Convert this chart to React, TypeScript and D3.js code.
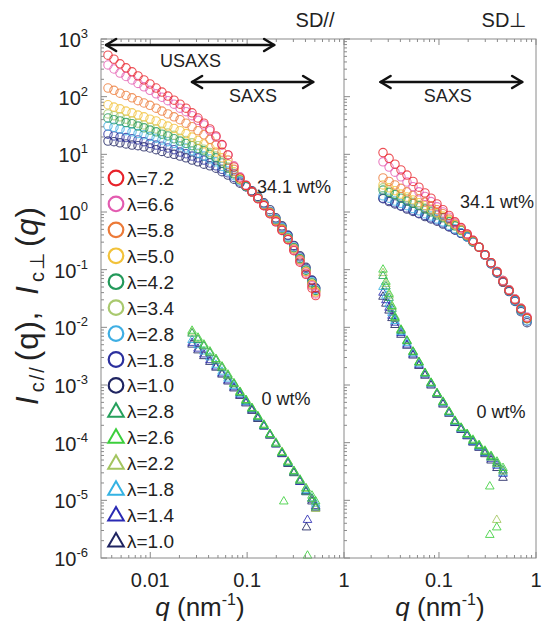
import * as d3 from "d3";

const width = 543;
const height = 629;

// ---------- legend / series ----------
const circleLambdas = ["7.2", "6.6", "5.8", "5.0", "4.2", "3.4", "2.8", "1.8", "1.0"];
const circleColors = ["#e8232b", "#e35bb0", "#ec7a38", "#f2c23a", "#23995a", "#a9c96e", "#3eaee3", "#2b2f9e", "#1f2461"];
const triLambdas = ["2.8", "2.6", "2.2", "1.8", "1.4", "1.0"];
const triColors = ["#26a05c", "#3ccf3c", "#a3c55f", "#35b3e3", "#2a2ab4", "#1f2461"];

// ---------- SD// panel, 34.1 wt% (USAXS + SAXS) ----------
const qLeft = [0.00366, 0.00422, 0.00487, 0.00562, 0.00648, 0.00747, 0.00861, 0.00993, 0.0115, 0.0132, 0.0152, 0.0176, 0.0203, 0.0234, 0.027, 0.0311, 0.0358, 0.0413, 0.0477, 0.055, 0.0634, 0.0731, 0.0843, 0.0972, 0.112, 0.129, 0.149, 0.172, 0.198, 0.229, 0.264, 0.304, 0.351, 0.405, 0.467, 0.51];
const logLeft34 = [
  [2.72, 2.65, 2.57, 2.5, 2.43, 2.36, 2.29, 2.22, 2.15, 2.08, 2.01, 1.94, 1.87, 1.8, 1.72, 1.63, 1.54, 1.44, 1.32, 1.17, 0.99, 0.78, 0.59, 0.46, 0.35, 0.23, 0.11, -0.03, -0.17, -0.32, -0.48, -0.67, -0.87, -1.08, -1.32, -1.45],
  [2.55, 2.48, 2.41, 2.35, 2.29, 2.23, 2.17, 2.11, 2.05, 1.99, 1.93, 1.87, 1.8, 1.74, 1.67, 1.59, 1.51, 1.41, 1.3, 1.16, 0.99, 0.8, 0.61, 0.47, 0.35, 0.23, 0.11, -0.03, -0.17, -0.32, -0.48, -0.66, -0.85, -1.06, -1.28, -1.42],
  [2.15, 2.11, 2.06, 2.02, 1.98, 1.93, 1.89, 1.85, 1.8, 1.75, 1.7, 1.65, 1.6, 1.54, 1.48, 1.41, 1.34, 1.26, 1.16, 1.04, 0.9, 0.74, 0.59, 0.46, 0.35, 0.24, 0.12, -0.01, -0.15, -0.3, -0.47, -0.64, -0.83, -1.04, -1.26, -1.4],
  [1.86, 1.82, 1.79, 1.75, 1.72, 1.68, 1.65, 1.61, 1.58, 1.53, 1.49, 1.45, 1.41, 1.36, 1.3, 1.24, 1.18, 1.11, 1.04, 0.94, 0.83, 0.7, 0.57, 0.46, 0.35, 0.24, 0.12, -0.01, -0.15, -0.3, -0.47, -0.64, -0.83, -1.03, -1.25, -1.38],
  [1.63, 1.6, 1.58, 1.55, 1.53, 1.49, 1.46, 1.42, 1.39, 1.35, 1.32, 1.27, 1.23, 1.19, 1.15, 1.1, 1.06, 1.0, 0.94, 0.85, 0.76, 0.66, 0.56, 0.45, 0.35, 0.24, 0.12, -0.01, -0.14, -0.29, -0.45, -0.62, -0.81, -1.01, -1.23, -1.36],
  [1.7, 1.67, 1.65, 1.61, 1.58, 1.54, 1.51, 1.47, 1.44, 1.4, 1.37, 1.33, 1.28, 1.24, 1.2, 1.15, 1.09, 1.03, 0.97, 0.88, 0.78, 0.67, 0.56, 0.45, 0.35, 0.24, 0.12, -0.01, -0.14, -0.29, -0.45, -0.62, -0.81, -1.01, -1.23, -1.36],
  [1.49, 1.47, 1.44, 1.41, 1.39, 1.36, 1.34, 1.31, 1.28, 1.25, 1.22, 1.19, 1.15, 1.11, 1.06, 1.02, 0.97, 0.92, 0.87, 0.79, 0.71, 0.63, 0.54, 0.45, 0.35, 0.25, 0.14, 0.01, -0.12, -0.27, -0.43, -0.61, -0.8, -1.0, -1.21, -1.34],
  [1.35, 1.32, 1.3, 1.29, 1.27, 1.25, 1.22, 1.19, 1.16, 1.14, 1.11, 1.08, 1.04, 1.01, 0.97, 0.94, 0.9, 0.85, 0.8, 0.74, 0.68, 0.6, 0.52, 0.44, 0.35, 0.25, 0.14, 0.01, -0.12, -0.26, -0.41, -0.59, -0.78, -0.98, -1.19, -1.32],
  [1.23, 1.22, 1.2, 1.18, 1.16, 1.15, 1.13, 1.11, 1.08, 1.05, 1.02, 1.0, 0.97, 0.94, 0.9, 0.87, 0.83, 0.8, 0.76, 0.7, 0.64, 0.57, 0.5, 0.44, 0.37, 0.27, 0.16, 0.04, -0.1, -0.24, -0.4, -0.58, -0.76, -0.96, -1.18, -1.32],
];

// ---------- SD// panel, 0 wt% ----------
const qLeft0 = [0.027, 0.0311, 0.0358, 0.0413, 0.0477, 0.055, 0.0634, 0.0731, 0.0843, 0.0972, 0.112, 0.129, 0.149, 0.172, 0.198, 0.229, 0.264, 0.304, 0.351, 0.405, 0.467, 0.51];
const logLeft0 = [
  [-2.11, -2.22, -2.33, -2.45, -2.58, -2.71, -2.85, -2.99, -3.14, -3.28, -3.42, -3.56, -3.71, -3.86, -4.02, -4.18, -4.35, -4.52, -4.66, -4.85, -4.97, -5.12],
  [-2.06, -2.18, -2.3, -2.42, -2.55, -2.68, -2.82, -2.97, -3.12, -3.26, -3.4, -3.54, -3.69, -3.85, -4.0, -4.17, -4.33, -4.49, -4.64, -4.79, -4.92, -5.02],
  [-2.09, -2.2, -2.32, -2.44, -2.56, -2.69, -2.84, -2.98, -3.12, -3.26, -3.4, -3.55, -3.69, -3.86, -4.02, -4.16, -4.33, -4.5, -4.66, -4.8, -4.98, -5.15],
  [-2.22, -2.31, -2.42, -2.52, -2.65, -2.77, -2.89, -3.02, -3.15, -3.29, -3.41, -3.56, -3.71, -3.86, -4.02, -4.18, -4.35, -4.5, -4.66, -4.82, -4.97, -5.06],
  [-2.27, -2.37, -2.47, -2.57, -2.68, -2.8, -2.92, -3.04, -3.17, -3.3, -3.43, -3.57, -3.72, -3.87, -4.03, -4.19, -4.35, -4.51, -4.68, -4.84, -4.99, -5.1],
  [-2.3, -2.4, -2.5, -2.6, -2.7, -2.82, -2.94, -3.06, -3.19, -3.32, -3.45, -3.59, -3.72, -3.88, -4.03, -4.2, -4.37, -4.53, -4.68, -4.86, -5.02, -5.14],
];
const left0ScatterQ = [0.239, 0.42, 0.41, 0.42];
const left0ScatterLog = [-5.02, -5.34, -5.47, -5.96];
const left0ScatterSeries = [1, 4, 5, 1];

// ---------- SD⊥ panel, 34.1 wt% ----------
const qRight = [0.0265, 0.0306, 0.0352, 0.0406, 0.0468, 0.054, 0.0622, 0.0718, 0.0828, 0.0954, 0.11, 0.127, 0.146, 0.169, 0.195, 0.224, 0.259, 0.298, 0.344, 0.396, 0.457, 0.527, 0.608, 0.701, 0.808];
const logRight34 = [
  [1.03, 0.93, 0.83, 0.73, 0.64, 0.53, 0.43, 0.33, 0.24, 0.14, 0.04, -0.06, -0.17, -0.27, -0.38, -0.49, -0.61, -0.74, -0.88, -1.04, -1.21, -1.36, -1.52, -1.68, -1.84],
  [0.87, 0.78, 0.69, 0.61, 0.52, 0.44, 0.35, 0.27, 0.18, 0.09, 0.0, -0.09, -0.19, -0.28, -0.38, -0.49, -0.61, -0.74, -0.88, -1.03, -1.19, -1.35, -1.51, -1.67, -1.82],
  [0.59, 0.53, 0.47, 0.41, 0.35, 0.29, 0.23, 0.17, 0.11, 0.04, -0.03, -0.12, -0.21, -0.3, -0.4, -0.5, -0.61, -0.74, -0.88, -1.03, -1.19, -1.35, -1.51, -1.67, -1.84],
  [0.47, 0.42, 0.37, 0.31, 0.26, 0.21, 0.16, 0.11, 0.05, -0.01, -0.07, -0.14, -0.22, -0.31, -0.4, -0.5, -0.61, -0.74, -0.88, -1.03, -1.19, -1.35, -1.51, -1.67, -1.84],
  [0.38, 0.34, 0.3, 0.24, 0.19, 0.15, 0.11, 0.05, 0.0, -0.05, -0.1, -0.17, -0.24, -0.32, -0.41, -0.51, -0.61, -0.74, -0.88, -1.04, -1.2, -1.36, -1.52, -1.69, -1.85],
  [0.42, 0.36, 0.31, 0.27, 0.23, 0.17, 0.12, 0.07, 0.02, -0.03, -0.09, -0.16, -0.24, -0.32, -0.41, -0.51, -0.61, -0.74, -0.88, -1.04, -1.2, -1.36, -1.52, -1.69, -1.85],
  [0.28, 0.24, 0.19, 0.15, 0.11, 0.06, 0.02, -0.03, -0.07, -0.12, -0.17, -0.23, -0.29, -0.36, -0.43, -0.52, -0.61, -0.75, -0.89, -1.05, -1.21, -1.37, -1.54, -1.71, -1.89],
  [0.24, 0.2, 0.16, 0.11, 0.07, 0.03, -0.02, -0.06, -0.1, -0.14, -0.19, -0.25, -0.31, -0.37, -0.43, -0.52, -0.61, -0.75, -0.89, -1.05, -1.21, -1.37, -1.54, -1.71, -1.89],
  [0.23, 0.18, 0.14, 0.1, 0.05, 0.01, -0.03, -0.08, -0.12, -0.16, -0.21, -0.26, -0.31, -0.37, -0.43, -0.52, -0.61, -0.75, -0.9, -1.06, -1.22, -1.38, -1.55, -1.73, -1.92],
];

// ---------- SD⊥ panel, 0 wt% ----------
const qRight0 = [0.0265, 0.0284, 0.0306, 0.0328, 0.0352, 0.0406, 0.0468, 0.054, 0.0622, 0.0718, 0.0828, 0.0954, 0.11, 0.127, 0.146, 0.169, 0.195, 0.224, 0.259, 0.298, 0.344, 0.396, 0.457];
const logRight0 = [
  [-1.11, -1.29, -1.49, -1.68, -1.85, -2.06, -2.24, -2.43, -2.61, -2.8, -2.97, -3.15, -3.3, -3.47, -3.63, -3.75, -3.86, -3.97, -4.06, -4.16, -4.25, -4.36, -4.48],
  [-1.0, -1.21, -1.42, -1.63, -1.82, -2.04, -2.23, -2.42, -2.6, -2.79, -2.96, -3.14, -3.29, -3.46, -3.62, -3.74, -3.85, -3.95, -4.04, -4.14, -4.23, -4.33, -4.44],
  [-1.06, -1.25, -1.45, -1.65, -1.84, -2.05, -2.24, -2.43, -2.61, -2.8, -2.97, -3.15, -3.3, -3.47, -3.63, -3.75, -3.86, -3.97, -4.06, -4.16, -4.26, -4.37, -4.5],
  [-1.3, -1.45, -1.6, -1.75, -1.89, -2.08, -2.27, -2.45, -2.63, -2.81, -2.98, -3.15, -3.31, -3.48, -3.64, -3.76, -3.87, -3.98, -4.07, -4.17, -4.26, -4.38, -4.52],
  [-1.4, -1.53, -1.66, -1.8, -1.92, -2.1, -2.3, -2.47, -2.65, -2.82, -2.99, -3.16, -3.32, -3.48, -3.65, -3.77, -3.88, -3.99, -4.08, -4.18, -4.28, -4.4, -4.54],
  [-1.47, -1.59, -1.71, -1.84, -1.96, -2.13, -2.32, -2.49, -2.67, -2.84, -3.01, -3.17, -3.34, -3.5, -3.66, -3.78, -3.89, -4.0, -4.09, -4.2, -4.31, -4.44, -4.61],
];
const right0ScatterQ = [0.334, 0.394, 0.334, 0.394];
const right0ScatterLog = [-4.76, -5.34, -5.6, -5.47];
const right0ScatterSeries = [1, 2, 1, 1];

const yExponents = [3, 2, 1, 0, -1, -2, -3, -4, -5, -6];

// ---------- layout ----------
const frame = { top: 39, bottom: 558, left: 101, mid: 344, right: 536 };
const font = "Liberation Sans, Arial, sans-serif";
const ink = "#222";
const axisColor = "#8a8a8a";

const yScale = d3.scaleLog().domain([1e-6, 1e3]).range([frame.bottom, frame.top]);
const xLeft = d3.scaleLog().domain([0.0031, 1]).range([frame.left, frame.mid]);
const xRight = d3.scaleLog().domain([0.0105, 1]).range([frame.mid, frame.right]);
const yDec = (v: number) => yScale(Math.pow(10, v));

const triPath = d3.symbol().type(d3.symbolTriangle).size(32)()!;
const triLegendPath = d3.symbol().type(d3.symbolTriangle).size(105)()!;

function logTicks([a, b]: number[]) {
  const out: { v: number; major: boolean }[] = [];
  for (let e = Math.floor(Math.log10(a)); e <= Math.ceil(Math.log10(b)); e++) {
    for (let m = 1; m <= 9; m++) {
      const v = m * Math.pow(10, e);
      if (v >= a * 0.9999 && v <= b * 1.0001) out.push({ v, major: m === 1 });
    }
  }
  return out;
}

function Arrow({ x1, x2, y }: { x1: number; x2: number; y: number }) {
  return (
    <g stroke="#111" strokeWidth={2.6} fill="none" strokeLinecap="round" strokeLinejoin="round">
      <line x1={x1} x2={x2} y1={y} y2={y} />
      <path d={`M${x1 + 10},${y - 6} L${x1},${y} L${x1 + 10},${y + 6}`} />
      <path d={`M${x2 - 10},${y - 6} L${x2},${y} L${x2 - 10},${y + 6}`} />
    </g>
  );
}

function Circles({ x, q, series }: { x: any; q: number[]; series: number[][] }) {
  // λ=1.0 first so that λ=7.2 ends on top
  const order = d3.range(series.length).reverse();
  return (
    <g fill="none" strokeWidth={1.1}>
      {order.map((s) =>
        series[s].map((v, i) => (
          <circle key={`${s}-${i}`} cx={x(q[i])} cy={yDec(v)} r={4.2} stroke={circleColors[s]} opacity={0.8} />
        ))
      )}
    </g>
  );
}

function Triangles({ x, q, series, sq, sl, ss }: { x: any; q: number[]; series: number[][]; sq: number[]; sl: number[]; ss: number[] }) {
  const order = [5, 4, 3, 2, 0, 1];
  return (
    <g fill="none" strokeWidth={1}>
      {order.map((s) =>
        series[s].map((v, i) => (
          <path key={`${s}-${i}`} d={triPath} transform={`translate(${x(q[i])},${yDec(v)})`} stroke={triColors[s]} opacity={0.85} />
        ))
      )}
      {sq.map((qq, i) => (
        <path key={`sc-${i}`} d={triPath} transform={`translate(${x(qq)},${yDec(sl[i])})`} stroke={triColors[ss[i]]} opacity={0.85} />
      ))}
    </g>
  );
}

export default function App() {
  const yTicks = logTicks([1e-6, 1e3]);
  const xlTicks = logTicks(xLeft.domain());
  const xrTicks = logTicks(xRight.domain());
  const legendY = d3.scaleLinear().domain([0, 14]).range([178, 541]);

  return (
    <svg width={width} height={height} style={{ position: "absolute", left: 0, top: 0, background: "#fff" }} fontFamily={font}>
      {/* ================= DATA ================= */}
      <Circles x={xLeft} q={qLeft} series={logLeft34} />
      <Triangles x={xLeft} q={qLeft0} series={logLeft0} sq={left0ScatterQ} sl={left0ScatterLog} ss={left0ScatterSeries} />
      <Circles x={xRight} q={qRight} series={logRight34} />
      <Triangles x={xRight} q={qRight0} series={logRight0} sq={right0ScatterQ} sl={right0ScatterLog} ss={right0ScatterSeries} />

      {/* ================= FRAMES + TICKS ================= */}
      <g stroke={axisColor} strokeWidth={1}>
        <rect x={frame.left} y={frame.top} width={frame.right - frame.left} height={frame.bottom - frame.top} fill="none" />
        <line x1={frame.mid} x2={frame.mid} y1={frame.top} y2={frame.bottom} />
        {yTicks.map((t, i) => (
          <g key={`y${i}`}>
            <line x1={frame.left} x2={frame.left + (t.major ? 6 : 3)} y1={yScale(t.v)} y2={yScale(t.v)} />
            <line x1={frame.mid} x2={frame.mid + (t.major ? 6 : 3)} y1={yScale(t.v)} y2={yScale(t.v)} />
          </g>
        ))}
        {[...xlTicks.map((t) => ({ x: xLeft(t.v), major: t.major })), ...xrTicks.map((t) => ({ x: xRight(t.v), major: t.major }))].map((t, i) => (
          <g key={`x${i}`}>
            <line x1={t.x} x2={t.x} y1={frame.bottom} y2={frame.bottom - (t.major ? 6 : 3)} />
            <line x1={t.x} x2={t.x} y1={frame.top} y2={frame.top + (t.major ? 6 : 3)} />
          </g>
        ))}
      </g>

      {/* ================= Y TICK LABELS ================= */}
      {yExponents.map((e) => (
        <text key={e} x={88} y={yScale(Math.pow(10, e)) + 8} textAnchor="end" fontSize={20} fill={ink}>
          10<tspan fontSize={13} dy={-9}>{e}</tspan>
        </text>
      ))}

      {/* ================= X TICK LABELS ================= */}
      {[0.01, 0.1, 1].map((v) => (
        <text key={`l${v}`} x={xLeft(v)} y={587} textAnchor="middle" fontSize={20} fill={ink}>
          {v}
        </text>
      ))}
      {[0.1, 1].map((v) => (
        <text key={`r${v}`} x={xRight(v)} y={587} textAnchor="middle" fontSize={20} fill={ink}>
          {v}
        </text>
      ))}

      {/* ================= AXIS TITLES ================= */}
      {[200, 440].map((cx) => (
        <text key={cx} x={cx} y={616} textAnchor="middle" fontSize={26} fill={ink}>
          <tspan fontStyle="italic">q</tspan> (nm<tspan fontSize={16} dy={-11}>-1</tspan>
          <tspan dy={11}>)</tspan>
        </text>
      ))}
      <text transform="translate(38,306) rotate(-90)" textAnchor="middle" fontSize={31} fill={ink}>
        <tspan fontStyle="italic">I</tspan>
        <tspan fontSize={20} dx={4} dy={6} letterSpacing={2}>c//</tspan>
        <tspan dx={4} dy={-6} letterSpacing={1}>(q),</tspan>
        <tspan dx={16} fontStyle="italic">I</tspan>
        <tspan fontSize={20} dx={4} dy={6} letterSpacing={2}>c⊥</tspan>
        <tspan dx={4} dy={-6} letterSpacing={1}>(</tspan>
        <tspan fontStyle="italic" letterSpacing={1}>q</tspan>
        <tspan>)</tspan>
      </text>

      {/* ================= HEADERS ================= */}
      <text x={315} y={27} textAnchor="middle" fontSize={20} fill={ink}>SD//</text>
      <text x={504} y={27} textAnchor="middle" fontSize={20} fill={ink}>SD⊥</text>

      {/* ================= RANGE ARROWS ================= */}
      <Arrow x1={xLeft(0.0035)} x2={xLeft(0.19)} y={45} />
      <text x={xLeft(0.026)} y={67} textAnchor="middle" fontSize={18} fill={ink}>USAXS</text>
      <Arrow x1={xLeft(0.027)} x2={xLeft(0.48)} y={82} />
      <text x={xLeft(0.115)} y={102} textAnchor="middle" fontSize={18} fill={ink}>SAXS</text>
      <Arrow x1={xRight(0.025)} x2={xRight(0.72)} y={82} />
      <text x={xRight(0.123)} y={102} textAnchor="middle" fontSize={18} fill={ink}>SAXS</text>

      {/* ================= ANNOTATIONS ================= */}
      <text x={294} y={193} textAnchor="middle" fontSize={18} fill={ink}>34.1 wt%</text>
      <text x={497} y={208} textAnchor="middle" fontSize={18} fill={ink}>34.1 wt%</text>
      <text x={286} y={405} textAnchor="middle" fontSize={18} fill={ink}>0 wt%</text>
      <text x={501} y={418} textAnchor="middle" fontSize={18} fill={ink}>0 wt%</text>

      {/* ================= LEGEND ================= */}
      {circleLambdas.map((l, i) => (
        <g key={`lc${i}`}>
          <circle cx={116} cy={legendY(i)} r={7.3} fill="none" stroke={circleColors[i]} strokeWidth={2.2} />
          <text x={127} y={legendY(i) + 7} fontSize={19} fill={ink}>λ={l}</text>
        </g>
      ))}
      {triLambdas.map((l, i) => (
        <g key={`lt${i}`}>
          <path d={triLegendPath} transform={`translate(116,${legendY(i + 9) + 1})`} fill="none" stroke={triColors[i]} strokeWidth={2} />
          <text x={127} y={legendY(i + 9) + 7} fontSize={19} fill={ink}>λ={l}</text>
        </g>
      ))}
    </svg>
  );
}
